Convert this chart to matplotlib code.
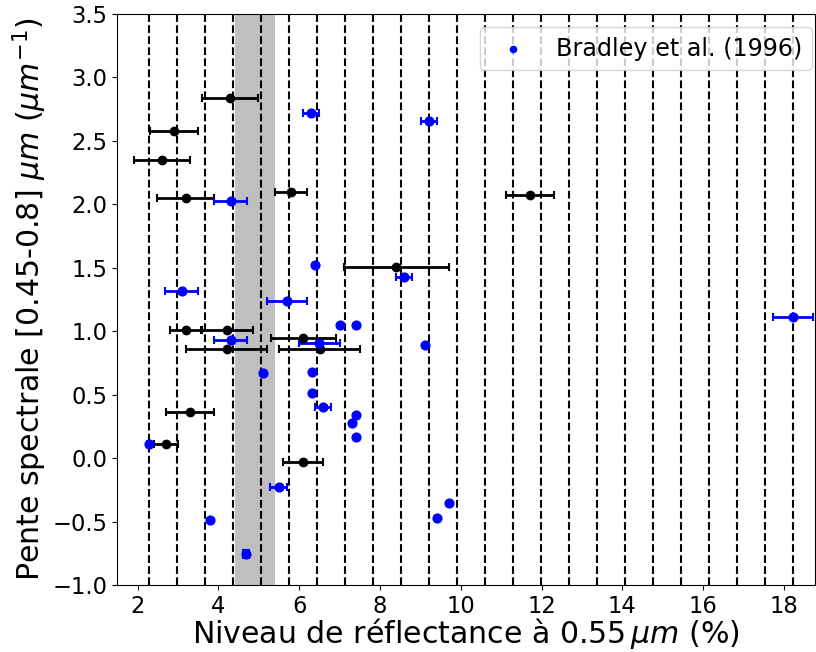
import numpy as np
import matplotlib
matplotlib.use("Agg")
import matplotlib.pyplot as plt

# Black points (this work)
black_x = [4.29, 2.90, 2.60, 3.19, 5.80, 11.72, 8.40, 3.19, 4.21, 6.10, 4.21, 6.51, 3.30, 2.70, 6.10]
black_y = [2.84, 2.575, 2.35, 2.05, 2.10, 2.07, 1.51, 1.01, 1.01, 0.95, 0.86, 0.86, 0.36, 0.11, -0.03]
black_xerr = [0.70, 0.60, 0.70, 0.70, 0.40, 0.60, 1.30, 0.40, 0.65, 0.80, 1.00, 1.00, 0.60, 0.30, 0.50]

# Bradley et al. (1996)
blue_x = [6.30, 9.22, 4.30, 6.40, 3.09, 8.60, 5.70, 7.00, 7.41, 4.30, 6.50, 9.11, 5.10, 6.31,
          6.31, 6.60, 7.41, 7.30, 7.41, 2.28, 5.49, 3.80, 4.69, 9.71, 9.41, 18.23]
blue_y = [2.72, 2.66, 2.03, 1.52, 1.32, 1.43, 1.24, 1.05, 1.05, 0.93, 0.91, 0.89, 0.67, 0.68,
          0.51, 0.40, 0.34, 0.28, 0.17, 0.11, -0.23, -0.49, -0.756, -0.35, -0.47, 1.11]
blue_xerr = [0.20, 0.20, 0.40, 0.0, 0.40, 0.20, 0.50, 0.0, 0.0, 0.40, 0.50, 0.0, 0.05, 0.0,
             0.0, 0.20, 0.0, 0.0, 0.0, 0.05, 0.20, 0.0, 0.08, 0.0, 0.0, 0.50]
blue_yerr = [0.0] * 22 + [0.03] + [0.0] * 3

band = (4.4, 5.4)
n_lines = 24

fig = plt.figure(figsize=(8.16, 6.52), dpi=100)
ax = fig.add_axes([117/816, (652-585)/652, (815-117)/816, (585-14)/652])

ax.axvspan(band[0], band[1], color='gray', alpha=0.5, lw=0, zorder=1)
for xv in np.linspace(min(blue_x), max(blue_x), n_lines):
    ax.axvline(xv, color='black', ls='--', lw=1.5, zorder=2)

ax.errorbar(black_x, black_y, xerr=black_xerr, fmt='o', color='black', ms=6,
            elinewidth=2, capsize=3, capthick=1.5, zorder=4)
ax.errorbar(blue_x, blue_y, xerr=blue_xerr, yerr=blue_yerr, fmt='none', ecolor='blue',
            elinewidth=2, capsize=3, capthick=1.5, zorder=4)
ax.scatter(blue_x, blue_y, color='blue', s=40, zorder=5, label='Bradley et al. (1996)')

ax.set_xlim(1.49, 18.77)
ax.set_ylim(-1.0, 3.5)
ax.set_xticks(np.arange(2, 19, 2))
ax.set_yticks(np.arange(-1.0, 3.51, 0.5))
ax.tick_params(labelsize=16.3)
ax.set_xlabel(r'Niveau de réflectance à 0.55$\,\mu m$ (%)', fontsize=21.6, labelpad=-1)
ax.set_ylabel(r'Pente spectrale [0.45-0.8] $\mu m$ ($\mu m^{-1}$)', fontsize=21.6, labelpad=2)

leg = ax.legend(loc='upper right', fontsize=17.2, scatterpoints=1, markerscale=0.7,
                borderaxespad=0, bbox_to_anchor=(812/816, (652-27)/652),
                bbox_transform=fig.transFigure)

fig.savefig('out.png', dpi=100)
